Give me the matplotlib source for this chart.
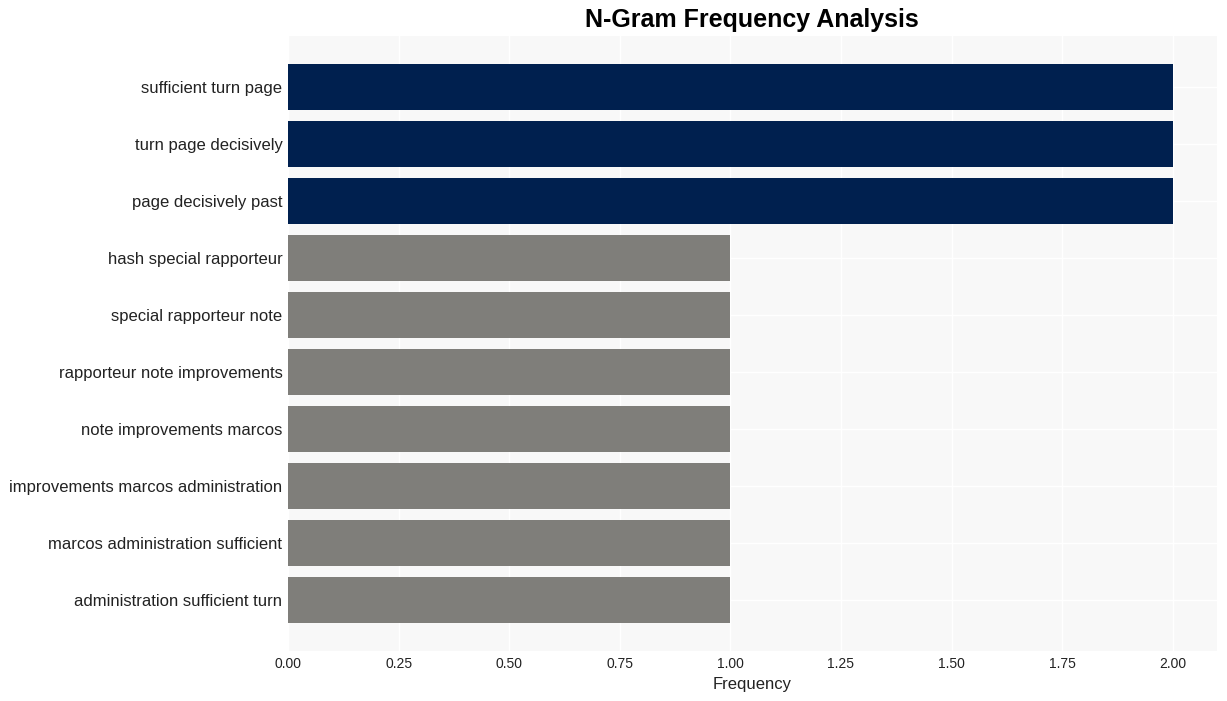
import matplotlib
matplotlib.use("Agg")
import matplotlib.pyplot as plt

plt.rcParams["font.family"] = ["Liberation Sans", "DejaVu Sans"]

# n-gramme und ihre haeufigkeit (von oben nach unten)
ngrams = [
    "sufficient turn page",
    "turn page decisively",
    "page decisively past",
    "hash special rapporteur",
    "special rapporteur note",
    "rapporteur note improvements",
    "note improvements marcos",
    "improvements marcos administration",
    "marcos administration sufficient",
    "administration sufficient turn",
]
counts = [2, 2, 2, 1, 1, 1, 1, 1, 1, 1]

navy = "#00204f"
grey = "#7f7e7a"
colors = [navy if c == max(counts) else grey for c in counts]

fig = plt.figure(figsize=(12.27, 7.01), dpi=100)
ax = fig.add_axes([288 / 1227, 50 / 701, 929 / 1227, 615 / 701])
ax.set_facecolor("#f8f8f8")

ax.barh(range(len(ngrams)), counts, color=colors, height=0.8, zorder=2)
ax.set_yticks(range(len(ngrams)))
ax.set_yticklabels(ngrams, fontsize=12, color="#222222")
ax.invert_yaxis()

ax.set_xlim(0, 2.1)
ax.set_xticks([0, 0.25, 0.5, 0.75, 1.0, 1.25, 1.5, 1.75, 2.0])
ax.set_xticklabels(["0.00", "0.25", "0.50", "0.75", "1.00", "1.25", "1.50", "1.75", "2.00"],
                   fontsize=10, color="#222222")
ax.set_xlabel("Frequency", fontsize=12, color="#222222", labelpad=5)

# gitter in weiss
ax.grid(True, color="white", linewidth=1, zorder=0)
ax.set_axisbelow(True)
for s in ax.spines.values():
    s.set_visible(False)
ax.tick_params(axis="y", length=0, pad=4)
ax.tick_params(axis="x", length=0, pad=4)

fig.text(0.613, 0.971, "N-Gram Frequency Analysis", fontsize=18, fontweight="bold",
         ha="center", va="center")

fig.savefig("out.png", dpi=100)
